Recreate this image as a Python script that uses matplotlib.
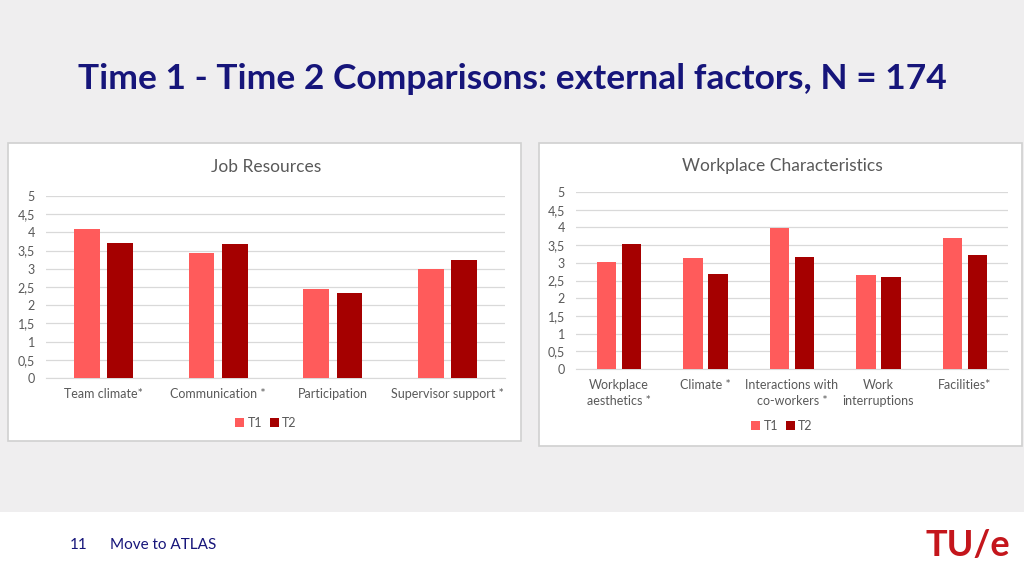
import numpy as np
import matplotlib.pyplot as plt
from matplotlib.patches import Rectangle

plt.rcParams['font.family'] = ['Lato', 'DejaVu Sans']

# Job Resources
jr_labels = ["Team climate*", "Communication *", "Participation", "Supervisor support *"]
jr_t1 = [4.08, 3.44, 2.44, 3.00]
jr_t2 = [3.72, 3.69, 2.33, 3.24]

# Workplace Characteristics
wc_labels = ["Workplace\naesthetics *", "Climate *", "Interactions with\nco-workers *",
             "Work\ninterruptions", "Facilities*"]
wc_t1 = [3.02, 3.13, 3.97, 2.66, 3.70]
wc_t2 = [3.54, 2.69, 3.15, 2.60, 3.22]

yticks = np.arange(0, 5.01, 0.5)
ytick_labels = ["0", "0,5", "1", "1,5", "2", "2,5", "3", "3,5", "4", "4,5", "5"]

c_t1 = "#ff5b5b"
c_t2 = "#a50000"
txt = "#595959"
W, H = 1024, 576

fig = plt.figure(figsize=(10.24, 5.76), dpi=100)
fig.patch.set_facecolor("#efeeef")


def px(x, y, w, h):
    # pixel box (top-left origin) -> figure fraction
    return [x / W, 1 - (y + h) / H, w / W, h / H]


# footer and chart panels, kept behind the axes
fig.add_artist(Rectangle((0, 0), 1, 64 / H, transform=fig.transFigure,
                         facecolor="white", edgecolor="none", zorder=-10))
for (x0, y0, x1, y1) in [(8, 143, 521, 441), (539, 143, 1022, 446)]:
    fig.add_artist(Rectangle((x0 / W, 1 - y1 / H), (x1 - x0) / W, (y1 - y0) / H,
                             transform=fig.transFigure, facecolor="white",
                             edgecolor="#d0d0d0", linewidth=1.2, zorder=-10))

fig.text(512 / W, 1 - 79 / H, "Time 1 - Time 2 Comparisons: external factors, N = 174",
         ha="center", va="center", fontsize=25.5, fontweight="bold", color="#16157a")
fig.text(70 / W, 1 - 545 / H, "11", ha="left", va="center", fontsize=11, color="#16157a")
fig.text(110 / W, 1 - 545 / H, "Move to ATLAS", ha="left", va="center", fontsize=11,
         color="#16157a")
fig.text(1010 / W, 1 - 545 / H, "TU/e", ha="right", va="center", fontsize=26,
         fontweight="bold", color="#c4161c")


def bar_chart(rect, labels, t1, t2, title, cx, title_y, leg_y):
    ax = fig.add_axes(px(*rect))
    x = np.arange(len(labels))
    ax.bar(x - 0.145, t1, 0.225, color=c_t1, label="T1", zorder=3)
    ax.bar(x + 0.145, t2, 0.225, color=c_t2, label="T2", zorder=3)
    ax.set_xlim(-0.5, len(labels) - 0.5)
    ax.set_ylim(0, 5)
    ax.set_yticks(yticks)
    ax.set_yticklabels(ytick_labels)
    ax.set_xticks(x)
    ax.set_xticklabels(labels, linespacing=1.45)
    ax.tick_params(axis="both", length=0, labelsize=9, colors=txt)
    ax.tick_params(axis="y", pad=8)
    ax.tick_params(axis="x", pad=7)
    ax.grid(axis="y", color="#d9d9d9", linewidth=0.9, zorder=0)
    for s in ["top", "right", "left"]:
        ax.spines[s].set_visible(False)
    ax.spines["bottom"].set_color("#d9d9d9")
    ax.set_facecolor("none")
    fig.text(cx / W, 1 - title_y / H, title, ha="center", va="center", fontsize=12.5, color=txt)
    fig.legend(*ax.get_legend_handles_labels(), loc="center",
               bbox_to_anchor=(cx / W, 1 - leg_y / H),
               ncol=2, frameon=False, fontsize=9, handlelength=0.7, handleheight=0.7,
               handletextpad=0.3, columnspacing=0.6, labelcolor=txt)
    return ax


bar_chart((46, 196, 459, 182), jr_labels, jr_t1, jr_t2, "Job Resources", 266, 167, 423)
bar_chart((576, 192, 432, 177), wc_labels, wc_t1, wc_t2, "Workplace Characteristics",
          782, 166, 426)

fig.savefig("out.png", dpi=100, facecolor=fig.get_facecolor())
